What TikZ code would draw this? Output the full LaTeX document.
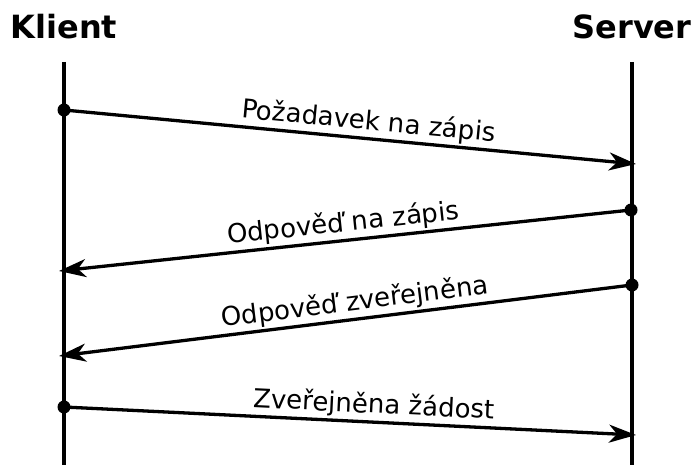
\documentclass[tikz,border=0pt]{standalone}
\usepackage{fontspec}
\setmainfont{DejaVu Sans}
\usetikzlibrary{arrows.meta}

\begin{document}
\begin{tikzpicture}[x=1pt, y=-1pt,
    party/.style={font=\fontsize{32}{38}\selectfont\bfseries},
    lifeline/.style={line width=4pt},
    msg/.style={line width=3.3pt, -{Stealth[length=27pt, width=18pt, inset=8pt]}},
    msglabel/.style={font=\fontsize{26}{30}\selectfont, sloped, above, inner sep=2pt},
    dot/.style={fill=black}]
    \useasboundingbox (0,0) rectangle (695,465);

    % participants
    \node [party] (klient) at (64,27) {Klient};
    \node [party] (server) at (632,27) {Server};
    \coordinate (kt) at (64,62);
    \coordinate (kb) at (64,465);
    \coordinate (st) at (632,62);
    \coordinate (sb) at (632,465);
    \draw [lifeline] (kt) -- (kb);
    \draw [lifeline] (st) -- (sb);

    % message ends
    \coordinate (k1) at (64,110);
    \coordinate (s1) at (636,164);
    \coordinate (s2) at (631,210);
    \coordinate (k2) at (59,271);
    \coordinate (s3) at (632,285);
    \coordinate (k3) at (59,356);
    \coordinate (k4) at (64,407);
    \coordinate (s4) at (636,435);

    \draw [msg] (k1) -- (s1)
      node [msglabel, pos=0.53] {Požadavek na zápis};
    \draw [msg] (s2) -- (k2)
      node [msglabel, pos=0.5] {Odpověď na zápis};
    \draw [msg] (s3) -- (k3)
      node [msglabel, pos=0.48] {Odpověď zveřejněna};
    \draw [msg] (k4) -- (s4)
      node [msglabel, pos=0.54] {Zveřejněna žádost};

    \foreach \p in {k1, s2, s3, k4}
      \fill [dot] (\p) circle (6.5pt);
\end{tikzpicture}
\end{document}
